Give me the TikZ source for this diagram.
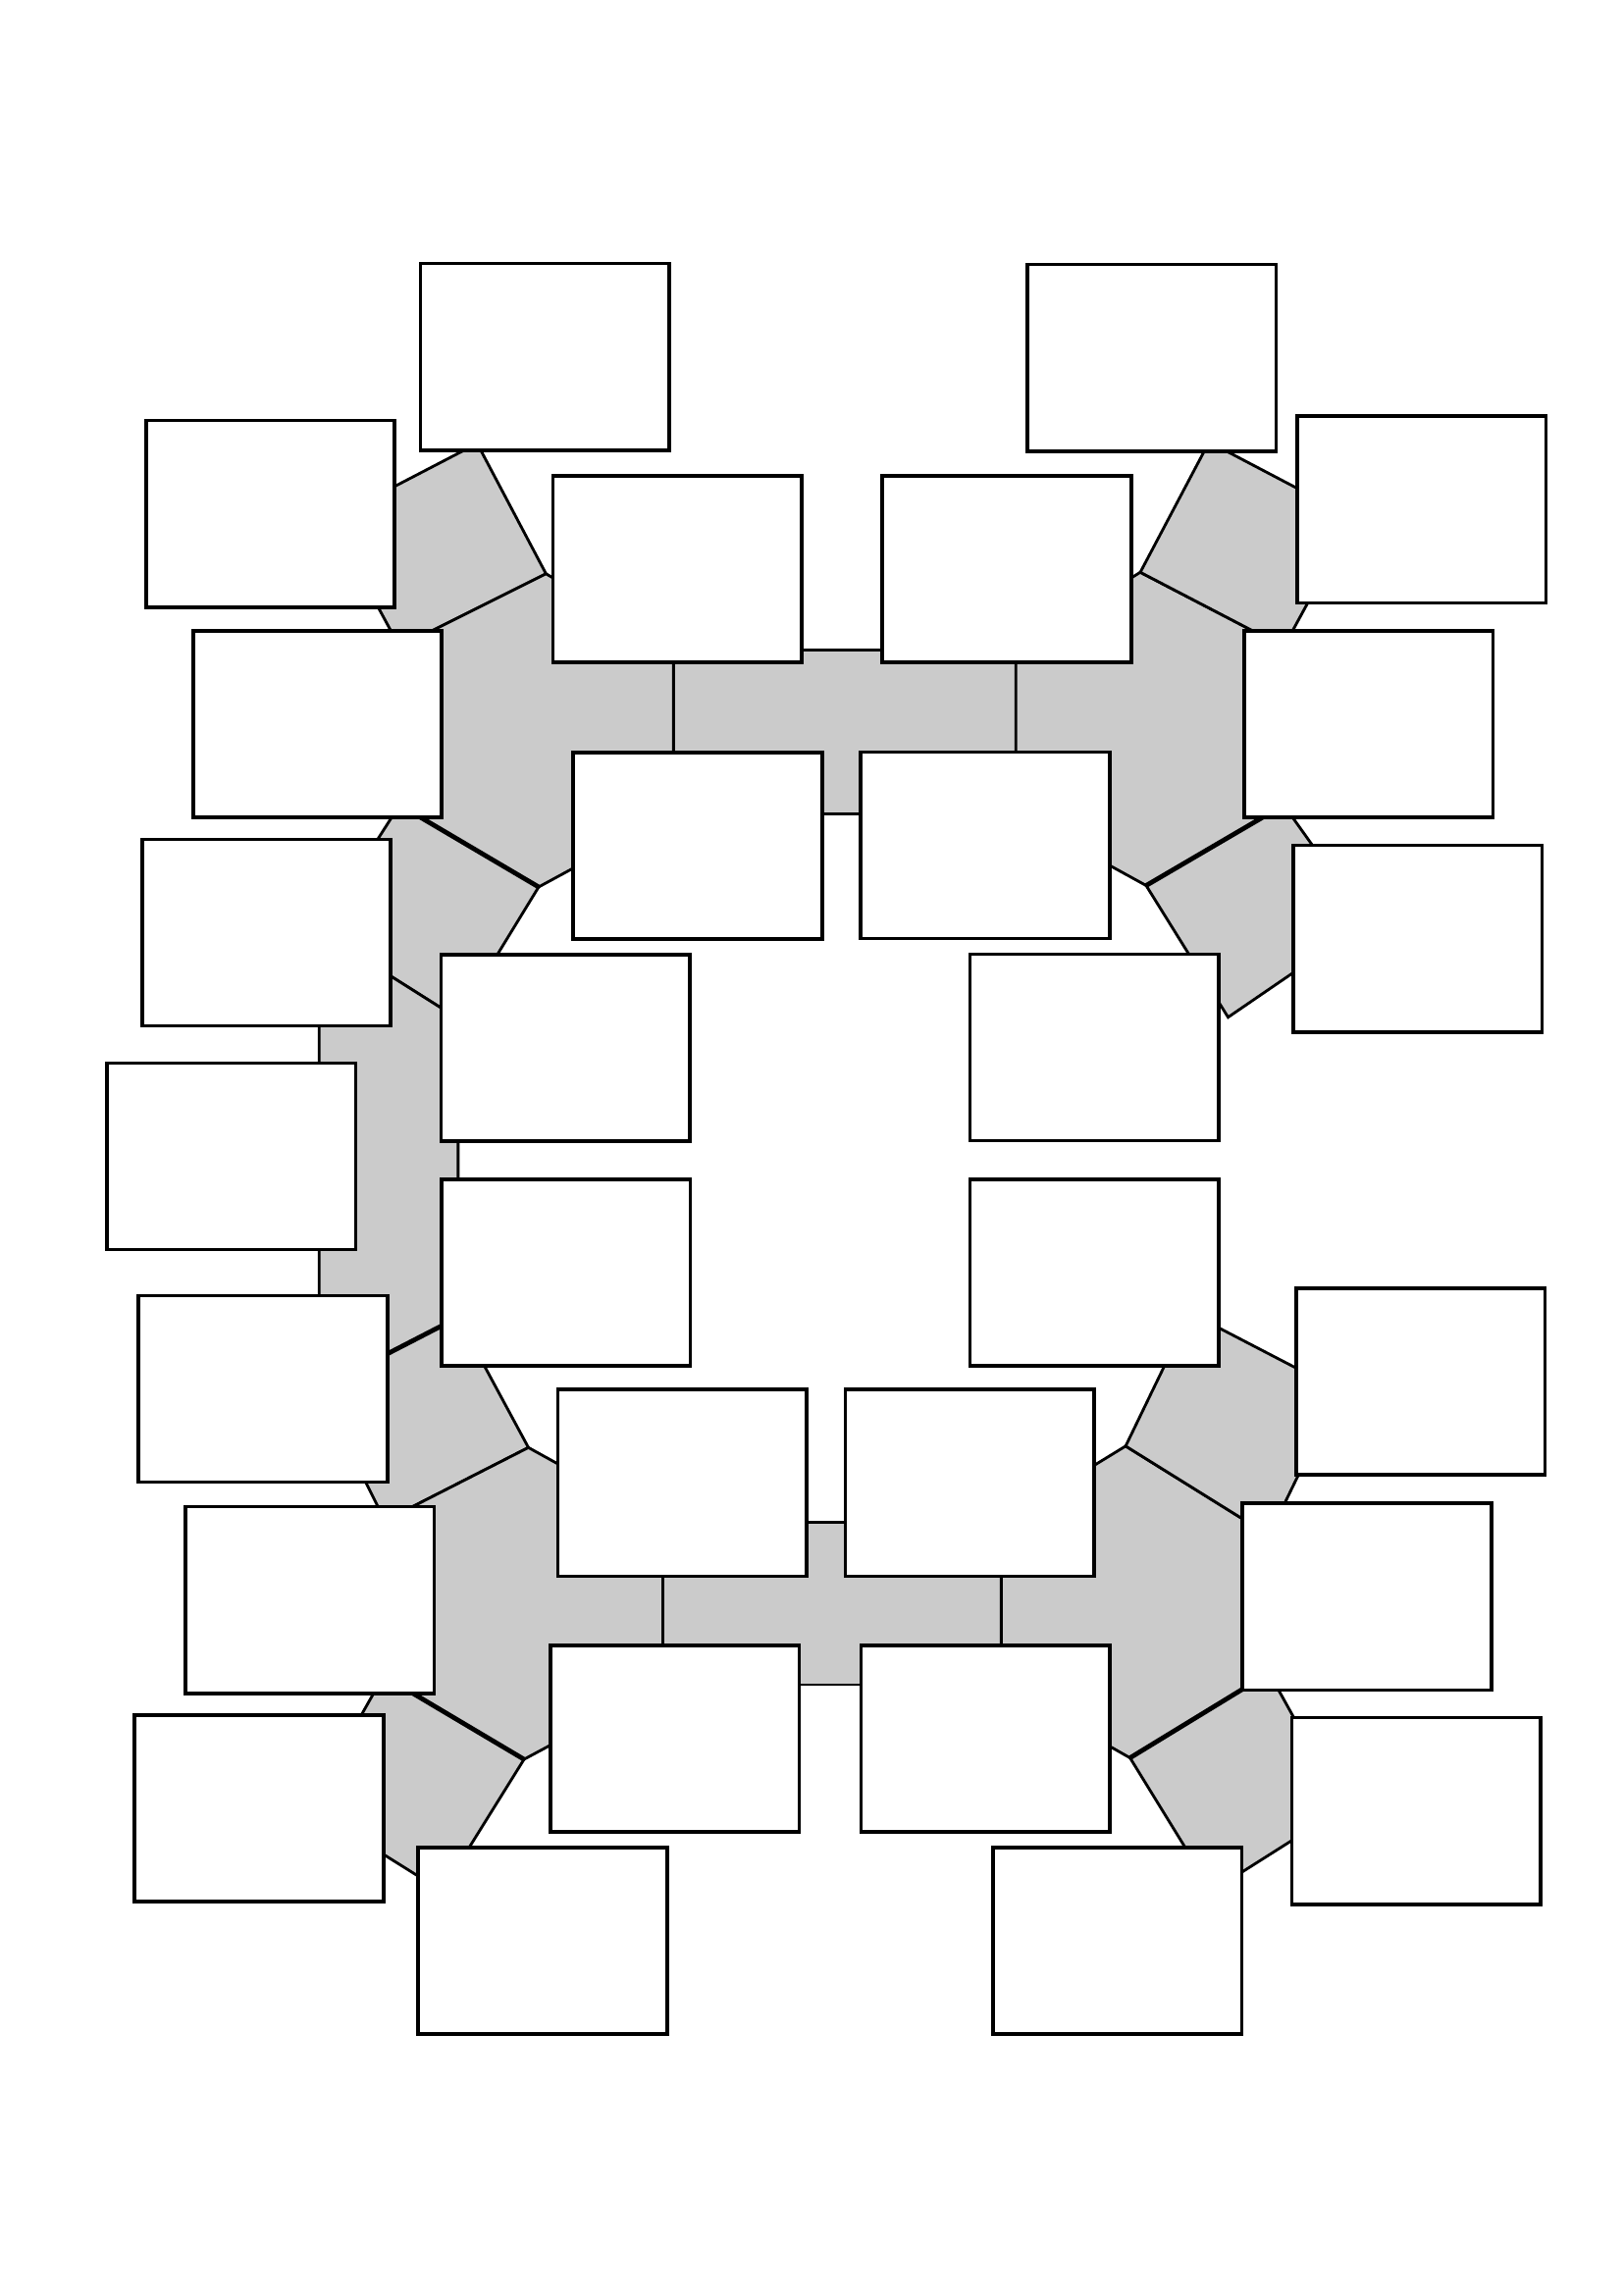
\documentclass[tikz,border=0pt]{standalone}
\usepackage{tikz}
\definecolor{cellgray}{RGB}{203,203,203}
\tikzset{
  cell/.style={fill=cellgray,draw=black,line width=1.9pt},
  heavy/.style={draw=black,line width=3.2pt},
  card/.style={draw=black,fill=white,line width=2.5pt,minimum width=170pt,minimum height=127.5pt,inner sep=0pt}
}

\begin{document}
\begin{tikzpicture}[x=1pt,y=-1pt]
    \useasboundingbox (0,0) rectangle (1109,1568);
    % grey ring, upper half
    \filldraw[cell] (326,303) -- (373,392) -- (273,442) -- (226,355) -- cycle; %cellA
    \filldraw[cell] (373,392) -- (460,444) -- (460,556) -- (368,606) -- (273,550) -- (273,442) -- cycle; %cellB
    \filldraw[cell] (460,444) rectangle (694,556); %cellC
    \filldraw[cell] (779,391) -- (877,442) -- (877,550) -- (783,605) -- (694,556) -- (694,444) -- cycle; %cellBr
    \filldraw[cell] (826,302) -- (925,354) -- (877,442) -- (779,391) -- cycle; %cellAr
    \filldraw[cell] (877,550) -- (934,630) -- (839,695) -- (783,605) -- cycle; %cellDr
    \filldraw[cell] (273,550) -- (368,606) -- (313,696) -- (218,636) -- cycle; %cellD
    \filldraw[cell] (218,636) -- (313,696) -- (313,900) -- (218,949) -- cycle; %cellE
    % grey ring, lower half
    \filldraw[cell] (218,949) -- (313,900) -- (361,989) -- (263,1039) -- cycle; %cellF
    \filldraw[cell] (361,989) -- (453,1040) -- (453,1151) -- (358,1202) -- (262,1145) -- (263,1039) -- cycle; %cellG
    \filldraw[cell] (453,1040) rectangle (684,1151); %cellH
    \filldraw[cell] (769,988) -- (867,1049) -- (867,1143) -- (772,1201) -- (684,1151) -- (684,1040) -- cycle; %cellK
    \filldraw[cell] (813,897) -- (915,950) -- (867,1049) -- (769,988) -- cycle; %cellJ
    \filldraw[cell] (262,1145) -- (358,1202) -- (302,1292) -- (211,1235) -- cycle; %cellI
    \filldraw[cell] (867,1143) -- (918,1235) -- (828,1292) -- (772,1201) -- cycle; %cellL
    \draw[heavy] (273,550) -- (368,606);
    \draw[heavy] (218,949) -- (313,900);
    \draw[heavy] (262,1145) -- (358,1202);
    \draw[heavy] (877,550) -- (783,605);
    \draw[heavy] (867,1143) -- (772,1201);
    % empty cards
    \node[card] (box1) at (372.2,243.8) {};
    \node[card] (box2) at (184.7,351.0) {};
    \node[card] (box3) at (462.7,388.8) {};
    \node[card] (box4) at (687.8,388.9) {};
    \node[card] (box5) at (786.8,244.4) {};
    \node[card] (box6) at (971.1,348.2) {};
    \node[card] (box7) at (216.9,494.8) {};
    \node[card] (box8) at (935.0,494.9) {};
    \node[card] (box9) at (476.7,577.9) {};
    \node[card] (box10) at (673.0,577.5) {};
    \node[card] (box11) at (182.0,637.2) {};
    \node[card] (box12) at (968.5,641.3) {};
    \node[card] (box13) at (386.4,715.9) {};
    \node[card] (box14) at (747.6,715.6) {};
    \node[card] (box15) at (158.0,790.0) {};
    \node[card] (box16) at (386.6,869.5) {};
    \node[card] (box17) at (747.7,869.6) {};
    \node[card] (box18) at (970.5,944.0) {};
    \node[card] (box19) at (179.6,948.9) {};
    \node[card] (box20) at (466.1,1013.1) {};
    \node[card] (box21) at (662.5,1013.1) {};
    \node[card] (box22) at (211.6,1093.1) {};
    \node[card] (box23) at (933.8,1090.9) {};
    \node[card] (box24) at (461.0,1188.0) {};
    \node[card] (box25) at (673.3,1188.0) {};
    \node[card] (box26) at (176.9,1235.6) {};
    \node[card] (box27) at (967.5,1237.3) {};
    \node[card] (box28) at (370.7,1326.1) {};
    \node[card] (box29) at (763.4,1326.1) {};
\end{tikzpicture}
\end{document}
